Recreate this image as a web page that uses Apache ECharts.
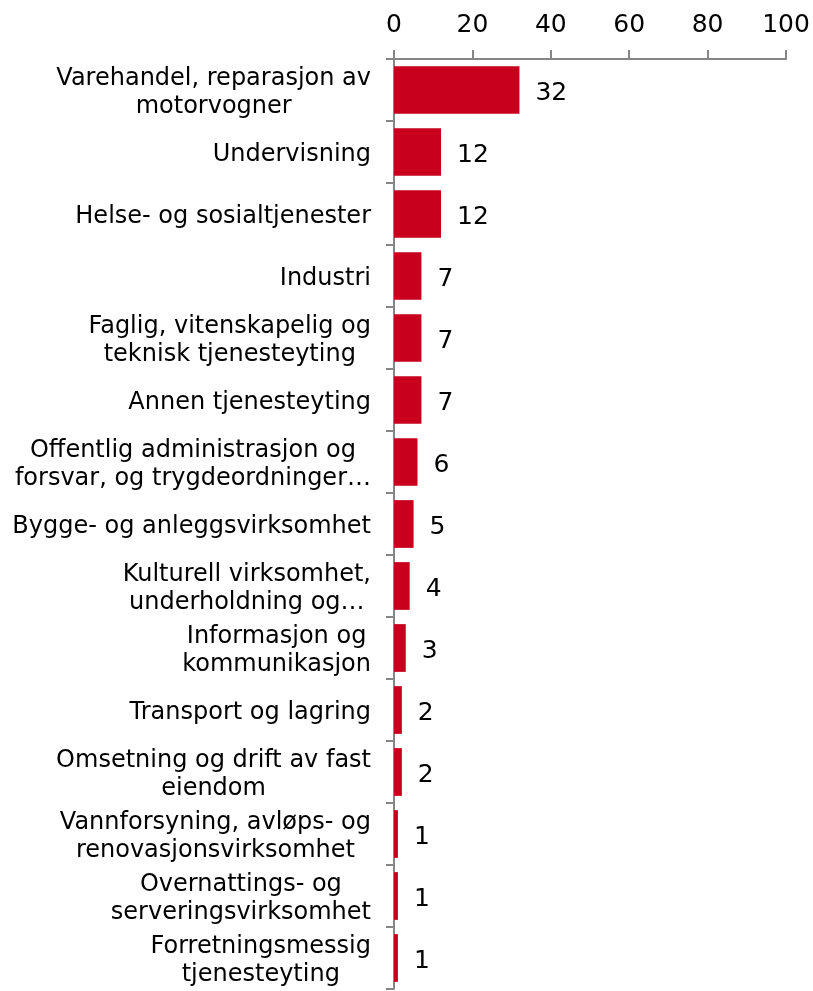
<!DOCTYPE html>
<html>
<head>
<meta charset="utf-8">
<script src="https://cdn.jsdelivr.net/npm/echarts@6/dist/echarts.min.js"></script>
<style>
html, body { margin: 0; padding: 0; background: #fff; }
#main { width: 813px; height: 991px; }
</style>
</head>
<body>
<div id="main"></div>
<script>
var categories = [
    'Varehandel, reparasjon av\nmotorvogner',
    'Undervisning',
    'Helse- og sosialtjenester',
    'Industri',
    'Faglig, vitenskapelig og\nteknisk tjenesteyting',
    'Annen tjenesteyting',
    'Offentlig administrasjon og\nforsvar, og trygdeordninger…',
    'Bygge- og anleggsvirksomhet',
    'Kulturell virksomhet,\nunderholdning og…',
    'Informasjon og\nkommunikasjon',
    'Transport og lagring',
    'Omsetning og drift av fast\neiendom',
    'Vannforsyning, avløps- og\nrenovasjonsvirksomhet',
    'Overnattings- og\nserveringsvirksomhet',
    'Forretningsmessig\ntjenesteyting'
];
var values = [32, 12, 12, 7, 7, 7, 6, 5, 4, 3, 2, 2, 1, 1, 1];

var myChart = echarts.init(document.getElementById('main'));
var option = {
    animation: false,
    textStyle: { fontFamily: 'DejaVu Sans' },
    grid: {
        left: 394,
        right: 27,
        top: 59,
        bottom: 2,
        containLabel: false
    },
    xAxis: {
        type: 'value',
        position: 'top',
        min: 0,
        max: 100,
        interval: 20,
        splitLine: { show: false },
        axisLine: { show: true, lineStyle: { color: '#868686', width: 2 } },
        axisTick: { show: true, length: 9, lineStyle: { color: '#868686', width: 2 } },
        axisLabel: { color: '#000', fontSize: 25, margin: 21 }
    },
    yAxis: {
        type: 'category',
        inverse: true,
        data: categories,
        axisLine: { show: true, lineStyle: { color: '#868686', width: 2 } },
        axisTick: { show: true, length: 8, lineStyle: { color: '#868686', width: 2 } },
        axisLabel: {
            margin: 23,
            align: 'right',
            padding: [6, 0, 0, 0],
            // each wrapped line is centred, like the original
            formatter: function (v) {
                return v.split('\n').map(function (s) { return '{c|' + s + '}'; }).join('\n');
            },
            rich: {
                c: { color: '#000', fontSize: 24, lineHeight: 28, align: 'center', fontFamily: 'DejaVu Sans' }
            }
        }
    },
    series: [{
        type: 'bar',
        data: values,
        barCategoryGap: '23%',
        itemStyle: { color: '#C8001E' },
        label: {
            show: true,
            position: 'right',
            distance: 16,
            offset: [0, 3],
            color: '#000',
            fontSize: 25
        }
    }]
};
myChart.setOption(option);
</script>
</body>
</html>
